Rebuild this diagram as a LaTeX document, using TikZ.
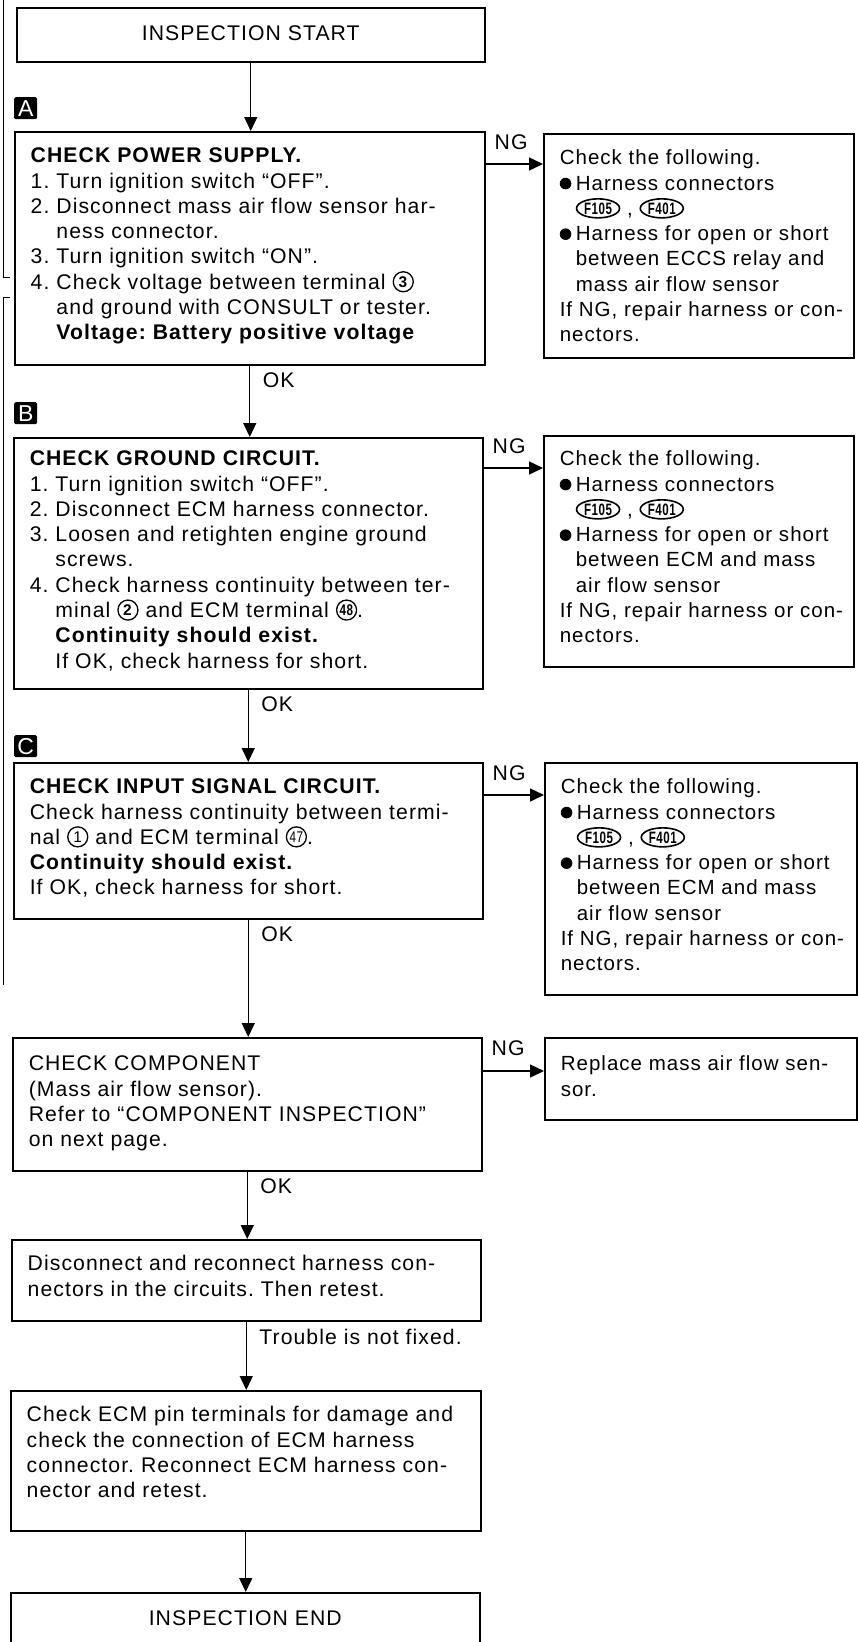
\documentclass[tikz,border=0pt]{standalone}
\usepackage{fontspec}
\setmainfont[LetterSpace=5]{Liberation Sans}
\usepackage{graphicx}
\usetikzlibrary{arrows.meta,shapes.geometric}

\newcommand{\bodyfont}{\fontsize{21.2}{25.3}\selectfont\frenchspacing}
\newcommand{\sidefont}{\fontsize{20.5}{25.3}\selectfont\frenchspacing}
% indent for numbered and bulleted lines
\newcommand{\ind}{\hphantom{4. }}
\newcommand{\bind}{\hspace*{16pt}}
\newcommand{\blt}{\makebox[16pt][l]{\tikz[baseline=0pt]\fill (5.5pt,6.5pt) circle (5.8pt);}}
% circled terminal number, connector tag
\newcommand{\cnum}[1]{\tikz[baseline={([yshift=-7.5pt]cn.center)}]\node[circle,draw,line width=1.3pt,inner sep=0pt,minimum size=20pt,font=\fontsize{15.5}{15.5}\selectfont] (cn) {#1};}
\newcommand{\ctag}[1]{\tikz[baseline={([yshift=-7pt]ct.center)}]\node[ellipse,draw,line width=1.6pt,inner sep=0pt,minimum height=19pt,minimum width=43pt,font=\bfseries\fontsize{16.5}{16.5}\selectfont] (ct) {\scalebox{0.7}[1]{#1}};}
% box contents: [first baseline], height, width, text
\newcommand{\boxtext}[4][31]{\hspace*{16pt}\parbox[c][#2pt][t]{#3pt}{\raggedright\rule{0pt}{#1pt}#4}}
\newcommand{\midtext}[3]{\parbox[c][#1pt][t]{#2pt}{\centering\rule{0pt}{33pt}#3}}

\tikzset{
  chkbox/.style={draw, line width=1.5pt, inner sep=0pt, anchor=north west, font=\bodyfont},
  sidebox/.style={chkbox, font=\sidefont},
  flow/.style={line width=1.4pt, -{Triangle[length=14pt,width=13pt]}},
  lbl/.style={font=\bodyfont, inner sep=0pt, anchor=north west},
  letterbox/.style={fill=black, text=white, rounded corners=1.5pt, inner sep=0pt,
    minimum width=23pt, minimum height=22pt, anchor=north west, font=\fontsize{23}{23}\selectfont}
}

\begin{document}
\begin{tikzpicture}[x=1pt,y=1pt]
\useasboundingbox (0,0) rectangle (858,-1642);

% page edge marks
\draw[line width=1pt] (3,0) -- (3,-277) -- (10,-277);
\draw[line width=1pt] (10,-297) -- (3,-297) -- (3,-985);

% Start
\node[chkbox] (start) at (16,-7) {\midtext{54}{468}{INSPECTION START}};

% Step A: power supply
\node[letterbox] (markA) at (14,-97) {A};
\node[chkbox] (boxA) at (14,-131) {\boxtext{233}{454}{%
  \textbf{CHECK POWER SUPPLY.}\\
  1. Turn ignition switch “OFF”.\\
  2. Disconnect mass air flow sensor har-\\
  \ind ness connector.\\
  3. Turn ignition switch “ON”.\\
  4. Check voltage between terminal \cnum{\textbf{3}}\\
  \ind and ground with CONSULT or tester.\\
  \ind\textbf{Voltage: Battery positive voltage}}};
\node[sidebox] (ngA) at (543,-133) {\boxtext{224}{294}{%
  Check the following.\\
  \blt Harness connectors\\
  \bind\ctag{F105} , \ctag{F401}\\
  \blt Harness for open or short\\
  \bind between ECCS relay and\\
  \bind mass air flow sensor\\
  If NG, repair harness or con-\\
  nectors.}};

% Step B: ground circuit
\node[letterbox] (markB) at (14,-402) {B};
\node[chkbox] (boxB) at (13,-437) {\boxtext[28]{251}{453}{%
  \textbf{CHECK GROUND CIRCUIT.}\\
  1. Turn ignition switch “OFF”.\\
  2. Disconnect ECM harness connector.\\
  3. Loosen and retighten engine ground\\
  \ind screws.\\
  4. Check harness continuity between ter-\\
  \ind minal \cnum{\textbf{2}} and ECM terminal \cnum{\scalebox{0.75}[1]{\textbf{48}}}.\\
  \ind\textbf{Continuity should exist.}\\
  \ind If OK, check harness for short.}};
\node[sidebox] (ngB) at (543,-435) {\boxtext[30]{231}{294}{%
  Check the following.\\
  \blt Harness connectors\\
  \bind\ctag{F105} , \ctag{F401}\\
  \blt Harness for open or short\\
  \bind between ECM and mass\\
  \bind air flow sensor\\
  If NG, repair harness or con-\\
  nectors.}};

% Step C: input signal
\node[letterbox] (markC) at (14,-735) {C};
\node[chkbox] (boxC) at (13,-762) {\boxtext{156}{453}{%
  \textbf{CHECK INPUT SIGNAL CIRCUIT.}\\
  Check harness continuity between termi-\\
  nal \cnum{1} and ECM terminal \cnum{\scalebox{0.75}[1]{47}}.\\
  \textbf{Continuity should exist.}\\
  If OK, check harness for short.}};
\node[sidebox] (ngC) at (544,-762) {\boxtext{232}{296}{%
  Check the following.\\
  \blt Harness connectors\\
  \bind\ctag{F105} , \ctag{F401}\\
  \blt Harness for open or short\\
  \bind between ECM and mass\\
  \bind air flow sensor\\
  If NG, repair harness or con-\\
  nectors.}};

% Component check
\node[chkbox] (comp) at (12,-1037) {\boxtext[33]{133}{453}{%
  CHECK COMPONENT\\
  (Mass air flow sensor).\\
  Refer to “COMPONENT INSPECTION”\\
  on next page.}};
\node[sidebox] (ngD) at (544,-1037) {\boxtext[33]{82}{296}{%
  Replace mass air flow sen-\\
  sor.}};

% Reconnect and retest
\node[chkbox] (recon) at (11,-1239) {\boxtext{81}{453}{%
  Disconnect and reconnect harness con-\\
  nectors in the circuits. Then retest.}};
\node[chkbox] (ecm) at (10,-1390) {\boxtext{140}{454}{%
  Check ECM pin terminals for damage and\\
  check the connection of ECM harness\\
  connector. Reconnect ECM harness con-\\
  nector and retest.}};

% End (runs off the page)
\node[chkbox] (finish) at (10,-1592) {\midtext{54}{469}{INSPECTION END}};

% Main flow
\draw[flow] (start.south) -- (start.south |- boxA.north);
\draw[flow] (boxA.south) -- (boxA.south |- boxB.north);
\draw[flow] (boxB.south) -- (boxB.south |- boxC.north);
\draw[flow] (boxC.south) -- (boxC.south |- comp.north);
\draw[flow] (comp.south) -- (comp.south |- recon.north);
\draw[flow] (recon.south) -- (recon.south |- ecm.north);
\draw[flow] (ecm.south) -- (ecm.south |- finish.north);
\node[lbl] (okA) at ([xshift=13pt,yshift=-7pt]boxA.south) {OK};
\node[lbl] (okB) at ([xshift=13pt,yshift=-7pt]boxB.south) {OK};
\node[lbl] (okC) at ([xshift=13pt,yshift=-7pt]boxC.south) {OK};
\node[lbl] (okD) at ([xshift=13pt,yshift=-7pt]comp.south) {OK};
\node[lbl] (retry) at ([xshift=13pt,yshift=-7pt]recon.south) {Trouble is not fixed.};

% NG branches
\draw[flow] ([yshift=-33pt]boxA.north east) coordinate (a1) -- (a1 -| ngA.west);
\draw[flow] ([yshift=-31pt]boxB.north east) coordinate (b1) -- (b1 -| ngB.west);
\draw[flow] ([yshift=-33pt]boxC.north east) coordinate (c1) -- (c1 -| ngC.west);
\draw[flow] ([yshift=-34pt]comp.north east) coordinate (d1) -- (d1 -| ngD.west);
\node[lbl] (ngAl) at ([xshift=9pt,yshift=-3pt]boxA.north east) {NG};
\node[lbl] (ngBl) at ([xshift=9pt,yshift=-1pt]boxB.north east) {NG};
\node[lbl] (ngCl) at ([xshift=9pt,yshift=-3pt]boxC.north east) {NG};
\node[lbl] (ngDl) at ([xshift=9pt,yshift=-3pt]comp.north east) {NG};
\end{tikzpicture}
\end{document}
